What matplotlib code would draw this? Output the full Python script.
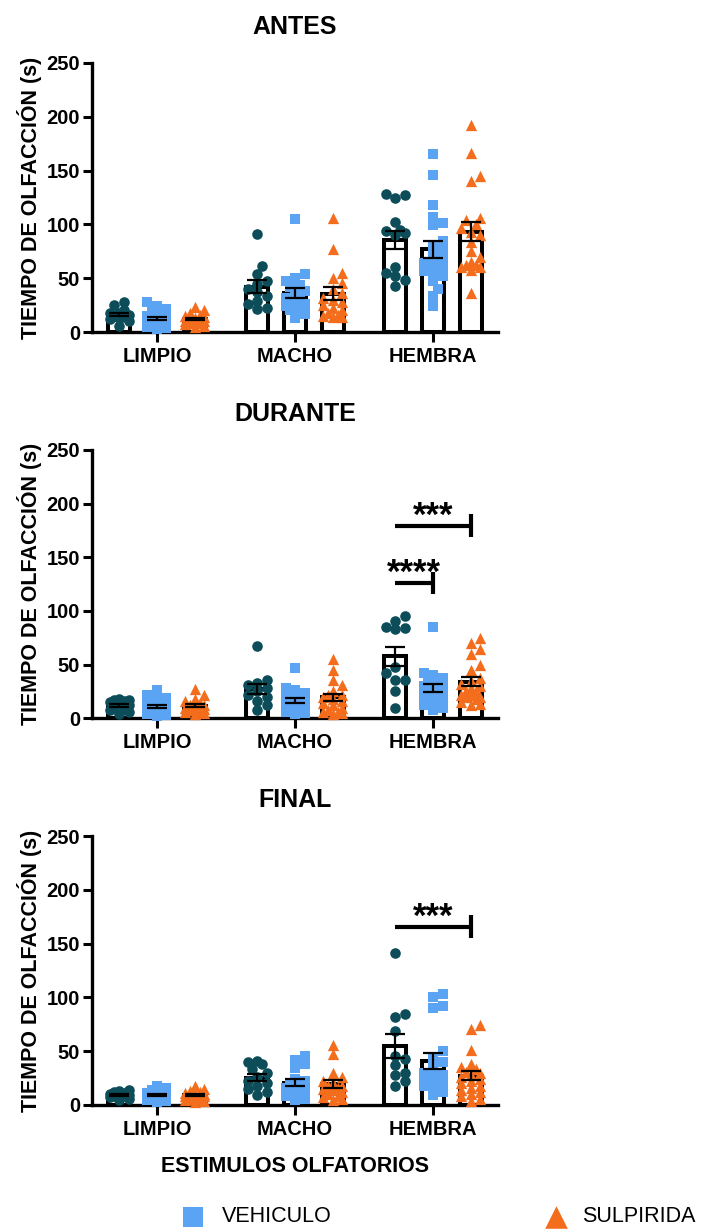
import numpy as np
import matplotlib
matplotlib.use("Agg")
import matplotlib.pyplot as plt

plt.rcParams['font.family'] = ['Liberation Sans', 'DejaVu Sans']
plt.rcParams['font.weight'] = 'bold'

# ---------------- data ----------------
categories = ['LIMPIO', 'MACHO', 'HEMBRA']
panel_titles = ['ANTES', 'DURANTE', 'FINAL']
series_names = ['CONTROL', 'VEHICULO', 'SULPIRIDA']
y_ticks = [0, 50, 100, 150, 200, 250]

# ANTES
antes_control = [
    [28, 25, 18, 20, 18, 16, 15, 14, 13, 12, 10, 6],
    [91, 61, 54, 47, 45, 40, 37, 33, 29, 26, 22, 21],
    [128, 127, 125, 102, 95, 94, 92, 90, 60, 55, 52, 48, 43],
]
antes_vehiculo = [
    [28, 24, 21, 19, 17, 15, 14, 13, 12, 11, 10, 9, 8, 7, 6, 5, 4, 3],
    [105, 54, 50, 47, 44, 42, 38, 35, 32, 30, 28, 26, 25, 24, 22, 20, 17, 13],
    [165, 146, 118, 107, 101, 99, 85, 80, 76, 72, 68, 64, 60, 57, 52, 47, 40, 33, 24, 62, 55],
]
antes_sulpirida = [
    [23, 20, 18, 16, 15, 14, 13, 12, 11, 10, 10, 9, 8, 8, 7, 6, 5],
    [106, 77, 55, 50, 46, 40, 36, 32, 28, 25, 22, 20, 18, 16, 15, 14, 30, 14],
    [192, 166, 145, 140, 106, 104, 100, 97, 93, 90, 84, 75, 70, 65, 62, 60, 60, 36, 58, 62],
]

# DURANTE
durante_control = [
    [18, 17, 17, 16, 15, 14, 12, 11, 9, 8, 6, 4],
    [67, 36, 33, 31, 28, 25, 22, 20, 16, 12, 8],
    [95, 91, 85, 84, 83, 48, 42, 36, 36, 25, 10],
]
durante_vehiculo = [
    [26, 22, 19, 17, 15, 13, 12, 11, 10, 9, 8, 7, 6, 5, 4, 3, 2, 9],
    [47, 28, 26, 24, 22, 20, 18, 16, 15, 14, 12, 10, 8, 6, 5, 4, 10],
    [85, 42, 40, 38, 35, 33, 30, 28, 26, 24, 22, 20, 18, 16, 14, 12, 10, 8, 30, 25],
]
durante_sulpirida = [
    [27, 22, 18, 16, 14, 12, 11, 10, 9, 8, 7, 6, 5, 4, 8, 10, 12],
    [55, 45, 36, 31, 22, 25, 22, 20, 18, 16, 14, 12, 10, 8, 6, 5, 4, 6],
    [75, 70, 65, 60, 50, 45, 38, 35, 32, 30, 28, 25, 22, 20, 18, 15, 13, 12, 20, 22, 25],
]

# FINAL
final_control = [
    [14, 13, 12, 11, 10, 9, 8, 7, 6, 5, 8, 9],
    [41, 40, 38, 33, 30, 26, 22, 20, 18, 15, 12, 9],
    [141, 85, 82, 69, 46, 43, 37, 30, 28, 22, 18],
]
final_vehiculo = [
    [18, 16, 14, 12, 11, 10, 9, 8, 7, 6, 5, 4, 3, 8, 9, 10, 6, 5],
    [46, 42, 38, 34, 24, 22, 20, 18, 16, 15, 14, 12, 10, 8, 6, 5],
    [103, 100, 92, 90, 50, 44, 40, 34, 30, 28, 26, 24, 22, 20, 18, 12, 9, 20, 18],
]
final_sulpirida = [
    [18, 15, 13, 12, 11, 10, 9, 8, 7, 6, 5, 4, 3, 8, 9, 10, 6],
    [56, 47, 30, 26, 22, 20, 18, 16, 14, 12, 10, 8, 7, 6, 5, 15, 18],
    [74, 71, 51, 38, 35, 33, 31, 30, 28, 26, 24, 22, 20, 18, 16, 14, 12, 10, 8, 6, 4],
]

# significance: (category index, series a, series b, bracket y, label)
antes_sig = []
durante_sig = [(2, 0, 2, 179.5, '***'), (2, 0, 1, 126, '****')]
final_sig = [(2, 0, 2, 165.7, '***')]

panels = [
    (antes_control, antes_vehiculo, antes_sulpirida, antes_sig),
    (durante_control, durante_vehiculo, durante_sulpirida, durante_sig),
    (final_control, final_vehiculo, final_sulpirida, final_sig),
]

# ---------------- style ----------------
colors = ['#0c4d59', '#5aa4f3', '#f36d1c']
markers = ['o', 's', '^']
msizes = [58, 46, 66]
bar_offsets = [-0.275, 0.0, 0.275]
bar_width = 0.165

W, H = 708, 1229
fig = plt.figure(figsize=(W / 100, H / 100), dpi=100)

ax_px = [(92, 63, 498, 332), (92, 450, 498, 718.3), (92, 836, 498, 1105)]


def swarm(ax, xc, vals, diam, max_half):
    pts = ax.transData.transform(np.column_stack([np.full(len(vals), xc), vals]))
    order = np.argsort(vals)
    placed = []
    out = np.empty(len(vals))
    step = diam * 0.5
    cands = [0.0]
    k = 1
    while k * step <= max_half:
        cands += [k * step, -k * step]
        k += 1
    for i in order:
        x0, y0 = pts[i]
        best, bestd = 0.0, -1
        for c in cands:
            if placed:
                d = min(np.hypot(x0 + c - px, y0 - py) for px, py in placed)
            else:
                d = 1e9
            if d >= diam * 0.9:
                best = c
                break
            if d > bestd:
                bestd, best = d, c
        placed.append((x0 + best, y0))
        out[i] = x0 + best
    disp = np.column_stack([out, pts[:, 1]])
    return ax.transData.inverted().transform(disp)[:, 0]


handles = {}
for p, (title, (ctrl, veh, sul, sig)) in enumerate(zip(panel_titles, panels)):
    l, t, r, b = ax_px[p]
    ax = fig.add_axes([l / W, 1 - b / H, (r - l) / W, (b - t) / H])
    ax.set_xlim(-0.471, 2.471)
    ax.set_ylim(0, 250)
    for s, series in enumerate([ctrl, veh, sul]):
        for g, vals in enumerate(series):
            v = np.asarray(vals, float)
            m = v.mean()
            sem = v.std(ddof=1) / np.sqrt(len(v))
            xc = g + bar_offsets[s]
            ax.bar(xc, m, width=bar_width, color='white', edgecolor='black',
                   linewidth=2.9, zorder=2)
            xs = swarm(ax, xc, v, 9.5, 14)
            sc = ax.scatter(xs, v, s=msizes[s], marker=markers[s], color=colors[s],
                            linewidths=0, zorder=3, clip_on=False)
            handles[s] = sc
            ax.errorbar(xc, m, yerr=sem, fmt='none', ecolor='black', elinewidth=1.6,
                        capsize=7.5, capthick=1.6, zorder=4)
    for g, a, bb, yb, lab in sig:
        x1 = g + bar_offsets[a]
        x2 = g + bar_offsets[bb]
        ax.plot([x1, x2], [yb, yb], color='black', lw=3, solid_capstyle='butt', zorder=5)
        ax.plot([x2, x2], [yb - 10.5, yb + 10.5], color='black', lw=3,
                solid_capstyle='butt', zorder=5)
        ax.text((x1 + x2) / 2, yb + 9, lab, ha='center', va='center',
                fontsize=25, fontweight='bold', zorder=5)

    ax.spines['top'].set_visible(False)
    ax.spines['right'].set_visible(False)
    ax.spines['left'].set_linewidth(2.4)
    ax.spines['bottom'].set_linewidth(2.4)
    ax.set_yticks(y_ticks)
    ax.set_yticklabels([str(v) for v in y_ticks], fontsize=14.5, fontweight='bold')
    ax.set_xticks(range(len(categories)))
    ax.set_xticklabels(categories, fontsize=14.5, fontweight='bold')
    ax.tick_params(axis='y', length=6.5, width=2.2, pad=2)
    ax.tick_params(axis='x', length=7, width=2.2, pad=3.5)
    ax.set_title(title, fontsize=18, fontweight='bold', pad=21)
    ax.set_ylabel('TIEMPO DE OLFACCIÓN (s)', fontsize=15.5, fontweight='bold')
    ax.yaxis.set_label_coords(-0.124, 0.5)
    if p == 2:
        ax.set_xlabel('ESTIMULOS OLFATORIOS', fontsize=15.5, fontweight='bold')
        ax.xaxis.set_label_coords(0.5, -0.191)

leg_font = {'weight': 'normal', 'size': 15.5}
fig.legend(handles=[handles[1]], labels=[series_names[1]], loc='lower left',
           bbox_to_anchor=(182 / W, 0.0015), frameon=False, borderpad=0,
           borderaxespad=0, handlelength=1.0, handletextpad=0.86,
           markerscale=2.1, scatterpoints=1, prop=leg_font)
fig.legend(handles=[handles[2]], labels=[series_names[2]], loc='lower left',
           bbox_to_anchor=(545 / W, 0.0015), frameon=False, borderpad=0,
           borderaxespad=0, handlelength=1.0, handletextpad=0.72,
           markerscale=2.0, scatterpoints=1, prop=leg_font)

fig.savefig('out.png', dpi=100)
